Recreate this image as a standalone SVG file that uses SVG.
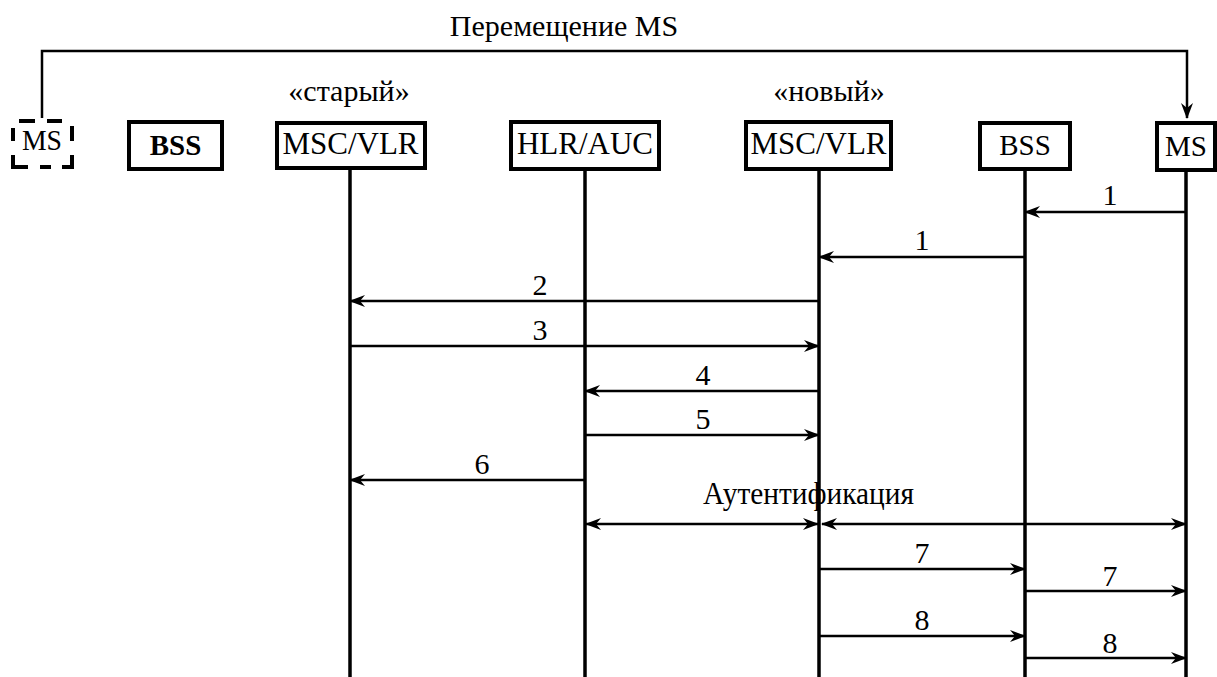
<svg xmlns="http://www.w3.org/2000/svg" width="1217" height="677" viewBox="0 0 1217 677">
  <style>
    text { font-family: "Liberation Serif", "Times New Roman", serif; fill: #000; }
    .box { fill: #fff; stroke: #000; stroke-width: 4; }
    .dash { fill: none; stroke: #000; stroke-width: 4; stroke-linecap: butt; }
    .life { stroke: #000; stroke-width: 3.5; fill: none; }
    .msg { stroke: #000; stroke-width: 2.5; fill: none; marker-end: url(#ah); }
    .both { stroke: #000; stroke-width: 2.5; fill: none; marker-end: url(#ah); marker-start: url(#ahs); }
    .lbl { font-size: 30px; text-anchor: middle; }
    .name { font-size: 31px; text-anchor: middle; }
  </style>
  <defs>
    <marker id="ah" viewBox="0 0 16 12" refX="15" refY="6" markerWidth="16" markerHeight="12" markerUnits="userSpaceOnUse" orient="auto">
      <path d="M0,0 L16,6 L0,12 L5,6 Z" fill="#000"/>
    </marker>
    <marker id="ahs" viewBox="0 0 16 12" refX="1" refY="6" markerWidth="16" markerHeight="12" markerUnits="userSpaceOnUse" orient="auto">
      <path d="M16,0 L0,6 L16,12 L11,6 Z" fill="#000"/>
    </marker>
  </defs>

  <!-- lifelines -->
  <g id="lifelines">
    <line class="life" x1="350" y1="169" x2="350" y2="677"/>
    <line class="life" x1="585" y1="169" x2="585" y2="677"/>
    <line class="life" x1="819" y1="169" x2="819" y2="677"/>
    <line class="life" x1="1025" y1="169" x2="1025" y2="677"/>
    <line class="life" x1="1186" y1="170" x2="1186" y2="677"/>
  </g>

  <!-- nodes -->
  <g id="ms-old">
    <!-- dashed outline built from separate strokes -->
    <path class="dash" d="M19,121 H35 M47,121 H62 M13,128 V141 M13,155 V167 H28 M40,167 H51 M62,167 H72 V155 M72,126 V141"/>
    <text x="42" y="150" font-size="30" text-anchor="middle" textLength="40" lengthAdjust="spacingAndGlyphs">MS</text>
  </g>
  <g id="bss-old">
    <rect class="box" x="129" y="122" width="93" height="47"/>
    <text x="175.5" y="155" font-size="29" font-weight="bold" text-anchor="middle">BSS</text>
  </g>
  <g id="msc-old">
    <text class="lbl" x="349" y="101">«старый»</text>
    <rect class="box" x="277" y="123" width="148" height="45"/>
    <text class="name" x="350.5" y="154">MSC/VLR</text>
  </g>
  <g id="hlr">
    <rect class="box" x="511" y="122" width="148" height="47"/>
    <text class="name" x="585" y="154">HLR/AUC</text>
  </g>
  <g id="msc-new">
    <text class="lbl" x="829" y="101">«новый»</text>
    <rect class="box" x="746" y="122" width="145" height="47"/>
    <text class="name" x="818.5" y="154">MSC/VLR</text>
  </g>
  <g id="bss-new">
    <rect class="box" x="980" y="123" width="90" height="46"/>
    <text x="1025" y="155" font-size="29" text-anchor="middle">BSS</text>
  </g>
  <g id="ms-new">
    <rect class="box" x="1157" y="123" width="58" height="47"/>
    <text x="1186" y="156" font-size="29" text-anchor="middle">MS</text>
  </g>

  <!-- connectors -->
  <g id="connectors">
    <path class="msg" d="M42,118 L42,51 L1187,51 L1187,118"/>
    <text class="lbl" x="564" y="36">Перемещение MS</text>

    <line class="msg" x1="1186" y1="212" x2="1025" y2="212"/>
    <text class="lbl" x="1110" y="205">1</text>
    <line class="msg" x1="1025" y1="257" x2="819" y2="257"/>
    <text class="lbl" x="922" y="250">1</text>

    <line class="msg" x1="819" y1="301" x2="350" y2="301"/>
    <text class="lbl" x="540" y="295">2</text>
    <line class="msg" x1="350" y1="346" x2="819" y2="346"/>
    <text class="lbl" x="540" y="340">3</text>

    <line class="msg" x1="819" y1="391" x2="585" y2="391"/>
    <text class="lbl" x="703" y="385">4</text>
    <line class="msg" x1="585" y1="435" x2="819" y2="435"/>
    <text class="lbl" x="703" y="429">5</text>

    <line class="msg" x1="585" y1="480" x2="350" y2="480"/>
    <text class="lbl" x="482" y="474">6</text>

    <text x="703" y="504" font-size="31" textLength="211" lengthAdjust="spacingAndGlyphs">Аутентификация</text>
    <line class="both" x1="586" y1="524" x2="818" y2="524"/>
    <line class="both" x1="822" y1="524" x2="1186" y2="524"/>

    <line class="msg" x1="819" y1="569" x2="1025" y2="569"/>
    <text class="lbl" x="922" y="563">7</text>
    <line class="msg" x1="1025" y1="591" x2="1186" y2="591"/>
    <text class="lbl" x="1110" y="586">7</text>

    <line class="msg" x1="819" y1="636" x2="1025" y2="636"/>
    <text class="lbl" x="922" y="630">8</text>
    <line class="msg" x1="1025" y1="658" x2="1186" y2="658"/>
    <text class="lbl" x="1110" y="653">8</text>
  </g>
</svg>
